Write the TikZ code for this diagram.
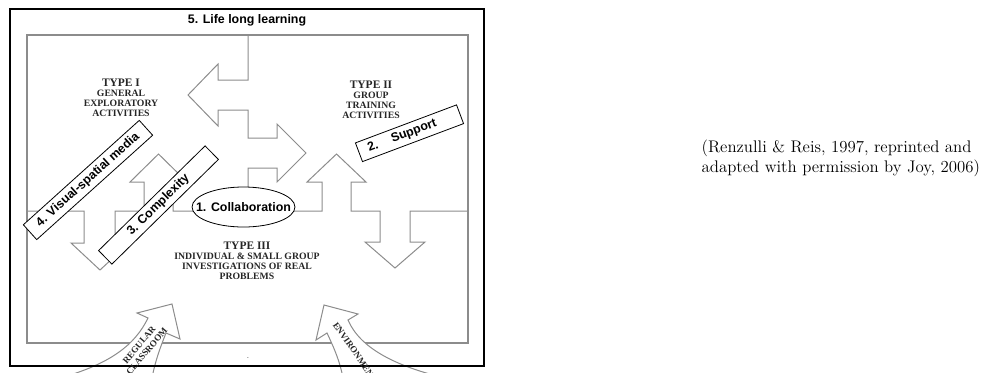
\documentclass[tikz,border=0pt]{standalone}
\usepackage{fontspec}
\setsansfont{Liberation Sans}
\newfontfamily\typefont{Liberation Serif}
\usetikzlibrary{shapes.geometric}

\begin{document}
\begin{tikzpicture}[x=0.75pt, y=-0.75pt,
        grayline/.style={draw=black!45, line width=0.75pt, line join=miter},
        tagbox/.style={draw, fill=white, line width=0.6pt, inner sep=0pt, font=\sffamily\bfseries\fontsize{9.3}{11}\selectfont},
        typelabel/.style={align=center, text=black!85, font=\typefont\bfseries\fontsize{7.3}{7.5}\selectfont},
        flowtext/.style={text=black!85, font=\typefont\bfseries\fontsize{6.8}{7.5}\selectfont}]
    \useasboundingbox (0,0) rectangle (989,372); % same size as the reference
    \clip (0,0) rectangle (989,372);

    % the three areas
    \draw[grayline, line width=1.1pt] (27,35) rectangle (468,343);
    \draw[grayline] (248,35) -- (248,80) -- (218,80) -- (218,64) -- (188,95) -- (218,126) -- (218,110) -- (248,110)
        -- (248,138) -- (277,138) -- (277,124) -- (306,153) -- (277,182) -- (277,168) -- (248,168) -- (248,211);
    \draw[grayline] (27,211) -- (84,211) -- (84,243) -- (71,243) -- (100,270) -- (129,243) -- (115,243) -- (115,211)
        -- (144,211) -- (144,182) -- (130,182) -- (158.5,154) -- (187,182) -- (173,182) -- (173,211)
        -- (322,211) -- (322,182) -- (307,182) -- (336.5,154) -- (366,182) -- (351,182) -- (351,211)
        -- (380,211) -- (380,242) -- (365,242) -- (395,268) -- (425,242) -- (410,242) -- (410,211) -- (468,211);

    \node[typelabel] (type1) at (121,98) {{\fontsize{8.6}{7.5}\selectfont TYPE I}\\GENERAL\\EXPLORATORY\\ACTIVITIES};
    \node[typelabel] (type2) at (371,100) {{\fontsize{8.6}{7.5}\selectfont TYPE II}\\GROUP\\TRAINING\\ACTIVITIES};
    \node[typelabel] (type3) at (247,260.5) {{\fontsize{8.6}{7.5}\selectfont TYPE III}\\INDIVIDUAL \& SMALL GROUP\\INVESTIGATIONS OF REAL\\PROBLEMS};

    % labels on top
    \node[tagbox, minimum width=117pt, minimum height=15pt, rotate=42] (visual) at (88,180) {4. Visual-spatial media};
    \node[tagbox, minimum width=112pt, minimum height=14.25pt, rotate=44.5] (complex) at (158.5,205) {3. Complexity};
    \node[tagbox, minimum width=81pt, minimum height=15pt, rotate=20.6, text width=66pt, align=left] (support) at (409.5,133.25) {2.\hspace{11pt}Support};
    \draw[fill=white, line width=0.6pt] (243.5,207) ellipse [x radius=38.6pt, y radius=15pt];
    \node[font=\sffamily\bfseries\fontsize{9.3}{11}\selectfont] (collab) at (243.5,207) {1. Collaboration};

    % arrows coming in from below
    \filldraw[grayline, fill=white] (60,378) .. controls (110,364) and (135,345) .. (148,318) -- (137,313) -- (172,304)
        -- (180,339) -- (166,333) .. controls (160,348) and (155,362) .. (152,378) -- cycle;
    \filldraw[grayline, fill=white] (445,378) .. controls (395,366) and (360,348) .. (348,320) -- (358,314) -- (324,305)
        -- (316,340) -- (327,333) .. controls (335,350) and (340,362) .. (343,378) -- cycle;

    \draw[line width=0.8pt] (10,9) rectangle (484,366);
    \node[font=\sffamily\bfseries\fontsize{9.3}{11}\selectfont] (lifelong) at (247,20) {5. Life long learning};
    \node[flowtext, align=center, rotate=50] (regular) at (143,348) {REGULAR\\CLASSROOM};
    \node[flowtext, rotate=-55] (environ) at (355,352) {ENVIRONMENT};
    \node[font=\fontsize{6}{6}\selectfont, inner sep=0pt] (dot) at (248,358) {.};

    \node[anchor=base west, font=\fontsize{12.6}{15}\selectfont] (cite1) at (697,152) {(Renzulli \& Reis, 1997, reprinted and};
    \node[anchor=base west, font=\fontsize{12.6}{15}\selectfont] (cite2) at (697,172) {adapted with permission by Joy, 2006)};
\end{tikzpicture}
\end{document}
